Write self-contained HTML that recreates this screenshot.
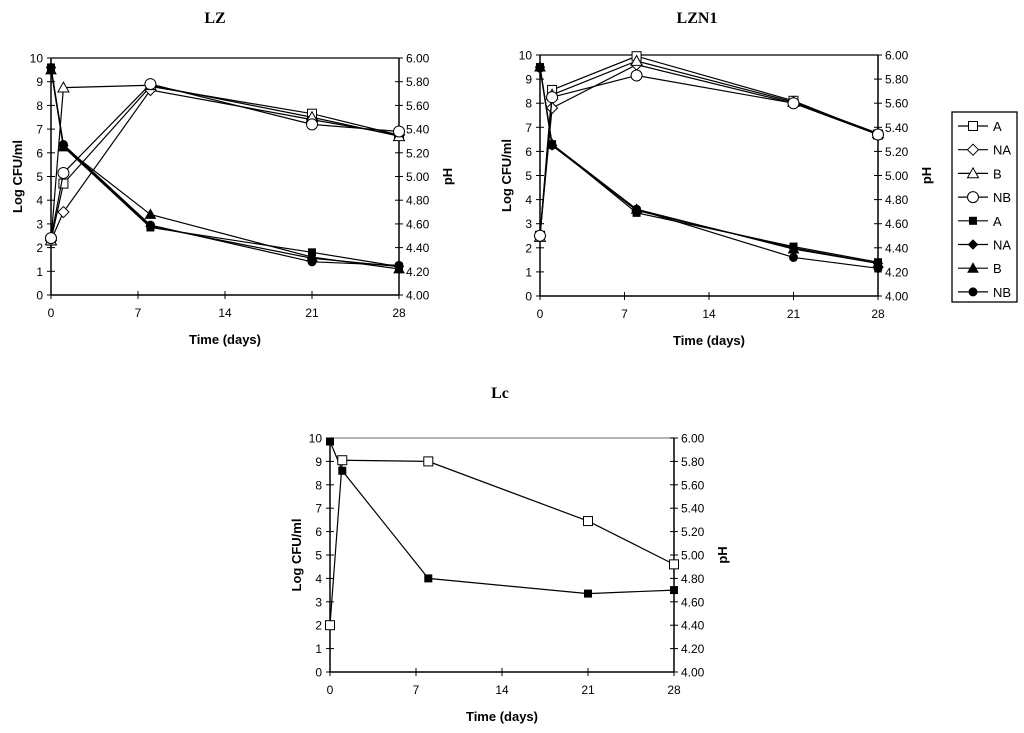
<!DOCTYPE html>
<html><head><meta charset="utf-8"><style>
body{margin:0;background:#fff;width:1024px;height:728px;overflow:hidden}
svg{font-family:"Liberation Sans",Arial,sans-serif}
.t{font-family:"Liberation Serif",serif;font-weight:bold;font-size:16px}
</style></head><body>
<svg id="c" width="1024" height="728"></svg>
<script>
const days=[0,1,8,21,28];
const cfuTicks=[0,1,2,3,4,5,6,7,8,9,10];
const phTicks=[4.00,4.20,4.40,4.60,4.80,5.00,5.20,5.40,5.60,5.80,6.00];
const dayTicks=[0,7,14,21,28];
const seriesNames=["A","NA","B","NB"];
// LZ
const lzCfuA=[2.3,4.7,8.8,7.65,6.75];
const lzCfuNA=[2.3,3.5,8.65,7.4,6.75];
const lzCfuB=[2.3,8.75,8.85,7.5,6.7];
const lzCfuNB=[2.4,5.15,8.9,7.2,6.9];
const lzPhA=[5.92,5.25,4.57,4.36,4.24];
const lzPhNA=[5.92,5.26,4.58,4.31,4.24];
const lzPhB=[5.90,5.25,4.68,4.32,4.22];
const lzPhNB=[5.92,5.27,4.59,4.28,4.25];
// LZN1
const lznCfuA=[2.5,8.55,9.95,8.1,6.7];
const lznCfuNA=[2.5,7.8,9.6,8.0,6.7];
const lznCfuB=[2.45,8.35,9.75,8.05,6.75];
const lznCfuNB=[2.5,8.25,9.15,8.0,6.7];
const lznPhA=[5.90,5.26,4.69,4.41,4.28];
const lznPhNA=[5.90,5.25,4.71,4.40,4.27];
const lznPhB=[5.90,5.26,4.72,4.39,4.27];
const lznPhNB=[5.89,5.25,4.72,4.32,4.23];
// Lc
const lcCfuA=[2.0,9.05,9.0,6.45,4.6];
const lcPhA=[5.97,5.72,4.80,4.67,4.70];

const NS="http://www.w3.org/2000/svg";
const svg=document.getElementById('c');
function el(tag,attrs,parent,txt){const e=document.createElementNS(NS,tag);for(const k in attrs)e.setAttribute(k,attrs[k]);if(txt!==undefined)e.textContent=txt;(parent||svg).appendChild(e);return e;}

function marker(g,shape,filled,x,y){
  const f=filled?"#000":"#fff";let m;
  if(shape==="sq"){const s=filled?7:9;m=el('rect',{x:x-s/2,y:y-s/2,width:s,height:s,fill:f,stroke:"#000","stroke-width":1},g);}
  else if(shape==="di"){const s=filled?4.5:5.5;m=el('polygon',{points:`${x},${y-s} ${x+s},${y} ${x},${y+s} ${x-s},${y}`,fill:f,stroke:"#000","stroke-width":1},g);}
  else if(shape==="tr"){const s=filled?5:5.5;m=el('polygon',{points:`${x},${y-s} ${x+s},${y+s*0.8} ${x-s},${y+s*0.8}`,fill:f,stroke:"#000","stroke-width":1},g);}
  else {m=el('circle',{cx:x,cy:y,r:filled?4:5.5,fill:f,stroke:"#000","stroke-width":1},g);}
  return m;
}

function chart(name,title,titleX,titleY,L,R,T,B,cfus,phs,gray){
  const g=el('g',{},svg);
  
  
  const xs=d=>L+(d-0)/(28-0)*(R-L);
  const yc=v=>B-(v/10)*(B-T);
  const yp=v=>B-((v-4)/2)*(B-T);
  const tt=el('text',{x:titleX,y:titleY,class:'t','text-anchor':'middle'},g,title);
  
  el('line',{x1:L,y1:T,x2:R,y2:T,stroke:gray?"#888":"#000","stroke-width":1.3},g);
  el('line',{x1:L,y1:T,x2:L,y2:B,stroke:"#000","stroke-width":1.5},g);
  el('line',{x1:R,y1:T,x2:R,y2:B,stroke:"#000","stroke-width":1.5},g);
  el('line',{x1:L,y1:B,x2:R,y2:B,stroke:"#000","stroke-width":1.5},g);
  cfuTicks.forEach(v=>{const y=yc(v);el('line',{x1:L-4,y1:y,x2:L+4,y2:y,stroke:"#000"},g);
    el('text',{x:L-8,y:y+4.5,'font-size':12,'text-anchor':'end'},g,String(v));});
  phTicks.forEach(v=>{const y=yp(v);el('line',{x1:R-4,y1:y,x2:R+4,y2:y,stroke:"#000"},g);
    el('text',{x:R+7,y:y+4.5,'font-size':12},g,v.toFixed(2));});
  dayTicks.forEach(d=>{const x=xs(d);el('line',{x1:x,y1:B-4,x2:x,y2:B+4,stroke:"#000"},g);
    el('text',{x:x,y:B+22,'font-size':12,'text-anchor':'middle'},g,String(d));});
  const xt=el('text',{x:(L+R)/2,y:B+49,'font-size':13,'font-weight':'bold','text-anchor':'middle'},g,'Time (days)');
  
  const ly=el('text',{x:0,y:0,'font-size':13,'font-weight':'bold','text-anchor':'middle',transform:`translate(${L-29},${(T+B)/2}) rotate(-90)`},g,'Log CFU/ml');
  
  const ry=el('text',{x:0,y:0,'font-size':13,'font-weight':'bold','text-anchor':'middle',transform:`translate(${R+53},${(T+B)/2}) rotate(-90)`},g,'pH');
  
  const shapes=["sq","di","tr","ci"];
  const draw=(vals,sc,shape,filled,nm)=>{
    const sg=el('g',{},g);
    
    el('polyline',{points:vals.map((v,i)=>xs(days[i])+','+sc(v)).join(' '),fill:'none',stroke:'#000','stroke-width':1.2},sg);
    vals.forEach((v,i)=>marker(sg,shape,filled,xs(days[i]),sc(v)));
  };
  phs.forEach((v,i)=>draw(v,yp,shapes[i],true,'series-ph-'+seriesNames[i].toLowerCase()));
  cfus.forEach((v,i)=>draw(v,yc,shapes[i],false,'series-cfu-'+seriesNames[i].toLowerCase()));
}
chart('chart-lz','LZ',215,23,51,399,58,295,[lzCfuA,lzCfuNA,lzCfuB,lzCfuNB],[lzPhA,lzPhNA,lzPhB,lzPhNB]);
chart('chart-lzn1','LZN1',697,23,540,878,55,296,[lznCfuA,lznCfuNA,lznCfuB,lznCfuNB],[lznPhA,lznPhNA,lznPhB,lznPhNB]);
chart('chart-lc','Lc',500,398,330,674,438,672,[lcCfuA],[lcPhA],true);

// legend
const lg=el('g',{},svg);


el('rect',{x:952,y:112,width:65,height:190,fill:'#fff',stroke:'#000','stroke-width':1.3},lg);
const lshapes=["sq","di","tr","ci","sq","di","tr","ci"];
const lnames=["A","NA","B","NB","A","NA","B","NB"];
lnames.forEach((n,i)=>{
  const y=126+i*23.7;
  const e=el('g',{},lg);
  
  
  el('line',{x1:958,y1:y,x2:988,y2:y,stroke:'#000','stroke-width':1.2},e);
  marker(e,lshapes[i],i>=4,973,y);
  el('text',{x:993,y:y+5,'font-size':13},e,n);
});
</script>
</body></html>
